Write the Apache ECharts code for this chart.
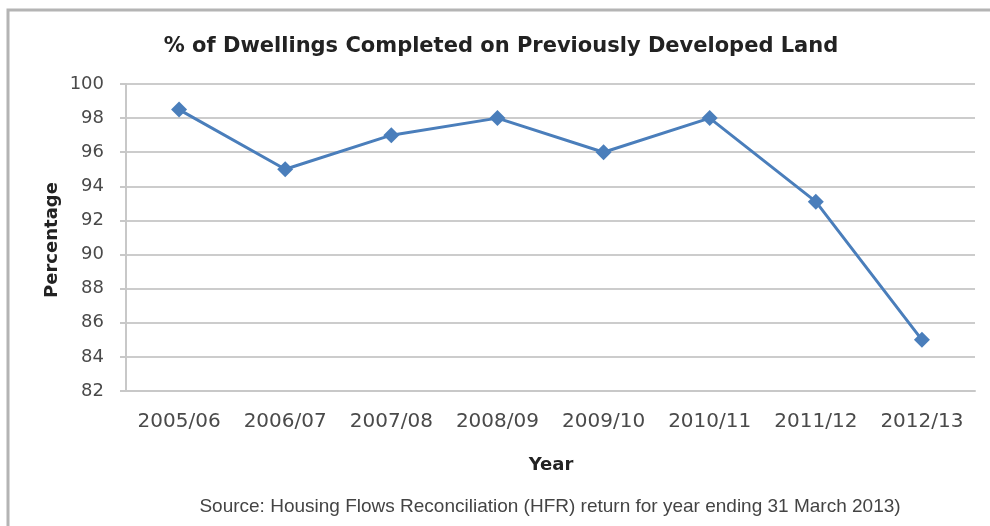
<!DOCTYPE html>
<html><head><meta charset="utf-8">
<script src="https://cdn.jsdelivr.net/npm/echarts@6/dist/echarts.min.js"></script>
<style>html,body{margin:0;padding:0;background:#fff}#c{width:990px;height:526px}</style>
</head><body><div id="c"></div>
<script>
const categories = ['2005/06','2006/07','2007/08','2008/09','2009/10','2010/11','2011/12','2012/13'];
const percentage = [98.5, 95.0, 97.0, 98.0, 96.0, 98.0, 93.1, 85.0];
const titleText = '% of Dwellings Completed on Previously Developed Land';
const yAxisName = 'Percentage';
const xAxisName = 'Year';
const sourceText = 'Source: Housing Flows Reconciliation (HFR) return for year ending 31 March 2013)';

const chart = echarts.init(document.getElementById('c'));
chart.setOption({
  animation: false,
  backgroundColor: '#fff',
  graphic: [
    { type: 'rect', shape: { x: 8, y: 10, width: 1000, height: 540 },
      style: { fill: 'none', stroke: '#b4b4b4', lineWidth: 3 }, z: -1 },
    { type: 'text', x: 501, y: 47,
      style: { text: titleText, font: 'bold 21px "DejaVu Sans"', fill: '#222', align: 'center', verticalAlign: 'middle' } },
    { type: 'text', x: 551, y: 465,
      style: { text: xAxisName, font: 'bold 18px "DejaVu Sans"', fill: '#222', align: 'center', verticalAlign: 'middle' } },
    { type: 'text', x: 550, y: 507,
      style: { text: sourceText, font: '19px "Liberation Sans", Arial', fill: '#444', align: 'center', verticalAlign: 'middle' } },
    { type: 'text', x: 52, y: 240, rotation: Math.PI / 2,
      style: { text: yAxisName, font: 'bold 18px "DejaVu Sans"', fill: '#222', align: 'center', verticalAlign: 'middle' } }
  ],
  grid: { left: 126, right: 15, top: 84, bottom: 135 },
  xAxis: {
    type: 'category', data: categories, boundaryGap: true,
    axisLine: { show: true, lineStyle: { color: '#c8c8c8', width: 2 } },
    axisTick: { show: false },
    axisLabel: { interval: 0, margin: 21, fontFamily: '"DejaVu Sans"', fontSize: 20, color: '#4a4a4a' }
  },
  yAxis: {
    type: 'value', min: 82, max: 100, interval: 2,
    axisLine: { show: true, lineStyle: { color: '#c8c8c8', width: 2 } },
    axisTick: { show: true, length: 6, lineStyle: { color: '#c8c8c8', width: 2 } },
    splitLine: { show: true, lineStyle: { color: '#cccccc', width: 2 } },
    axisLabel: { margin: 22, fontFamily: '"DejaVu Sans"', fontSize: 18, color: '#4a4a4a' }
  },
  series: [{
    type: 'line', data: percentage,
    symbol: 'diamond', symbolSize: 16,
    lineStyle: { color: '#4a7ebb', width: 3 },
    itemStyle: { color: '#4a7ebb' }
  }]
});
</script></body></html>
